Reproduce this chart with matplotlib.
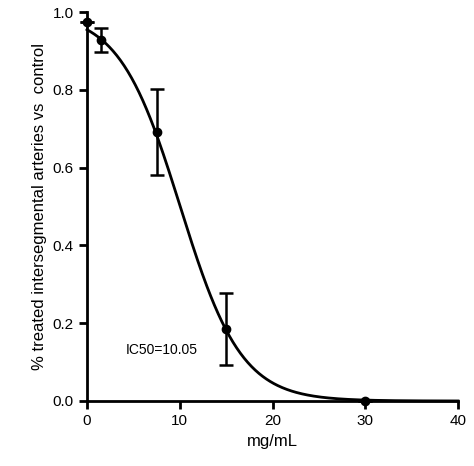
import matplotlib
matplotlib.use("Agg")
import matplotlib.pyplot as plt
import numpy as np

plt.rcParams['font.family'] = ['Liberation Sans', 'DejaVu Sans']

# measured points
conc = [0, 1.5, 7.5, 15, 30]
resp = [0.975, 0.928, 0.692, 0.185, 0.0]
err = [0.0, 0.032, 0.11, 0.092, 0.0]

# fitted sigmoid parameters (Boltzmann)
top = 1.0
ic50 = 10.05
slope = 3.3

fig = plt.figure(figsize=(4.74, 4.66), dpi=100)
ax = fig.add_axes([87/474, 65/466, 371/474, 389/466])

xs = np.linspace(0, 40, 400)
ax.plot(xs, top / (1 + np.exp((xs - ic50) / slope)), color='black', lw=2, clip_on=False)
ax.errorbar(conc, resp, yerr=err, fmt='o', color='black', ms=6, capsize=5,
            elinewidth=1.8, capthick=1.8, clip_on=False, zorder=3)

ax.set_xlim(0, 40)
ax.set_ylim(0, 1.0)
ax.set_xticks([0, 10, 20, 30, 40])
ax.set_yticks([0, 0.2, 0.4, 0.6, 0.8, 1.0])
ax.set_yticklabels(['0.0', '0.2', '0.4', '0.6', '0.8', '1.0'])
for s in ['top', 'right']:
    ax.spines[s].set_visible(False)
for s in ['left', 'bottom']:
    ax.spines[s].set_linewidth(2)
ax.tick_params(width=2, length=6, labelsize=11)
ax.set_xlabel('mg/mL', fontsize=12)
ax.set_ylabel('% treated intersegmental arteries vs  control', fontsize=12)
ax.text(4.2, 0.12, 'IC50=10.05', fontsize=10)

fig.savefig('out.png', dpi=100)
